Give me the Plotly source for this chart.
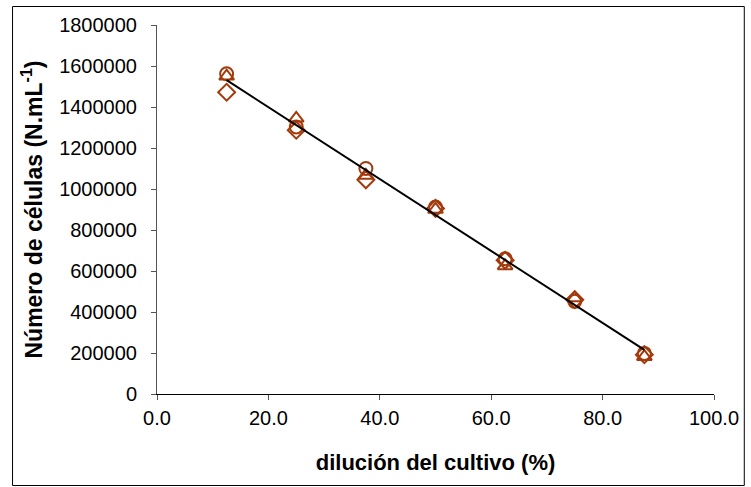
import numpy as np
import plotly.graph_objects as go

# Culture dilution (%) and cell counts (cells per mL) for three replicate counts
dilucion = [12.5, 25.0, 37.5, 50.0, 62.5, 75.0, 87.5]
replica_1 = [1562000, 1303000, 1100000, 912000, 660000, 452000, 198000]
replica_2 = [1550000, 1345000, 1066000, 900000, 625000, 468000, 182000]
replica_3 = [1472000, 1287000, 1045000, 905000, 652000, 460000, 192000]

x_ticks = [0, 20, 40, 60, 80, 100]
y_ticks = list(range(0, 1800001, 200000))

MARKER_COLOR = "#A33A0C"
FONT = "Liberation Sans, Arial, sans-serif"

# Linear trend over all replicates
all_x = np.array(dilucion * 3, dtype=float)
all_y = np.array(replica_1 + replica_2 + replica_3, dtype=float)
slope, intercept = np.polyfit(all_x, all_y, 1)
trend_x = np.array([min(dilucion), max(dilucion)])
trend_y = slope * trend_x + intercept

fig = go.Figure()
for vals, sym in [(replica_1, "circle-open"), (replica_2, "triangle-up-open"), (replica_3, "diamond-open")]:
    fig.add_trace(go.Scatter(
        x=dilucion, y=vals, mode="markers",
        marker=dict(symbol=sym, size=13, color=MARKER_COLOR, line=dict(width=2, color=MARKER_COLOR)),
        showlegend=False,
    ))

fig.add_trace(go.Scatter(
    x=trend_x, y=trend_y, mode="lines",
    line=dict(color="black", width=2), showlegend=False,
))

# Plot-area geometry in pixels
W, H = 751, 487
L, R, T, B = 157, 33, 25, 93
pw, ph = W - L - R, H - T - B

def px_to_paper_x(px):
    return (px - L) / pw

def px_to_paper_y(py):
    return (H - B - py) / ph

fig.add_shape(
    type="rect", xref="paper", yref="paper",
    x0=px_to_paper_x(11.5), x1=px_to_paper_x(748.5),
    y0=px_to_paper_y(485.5), y1=px_to_paper_y(6.5),
    line=dict(color="black", width=1), fillcolor="rgba(0,0,0,0)", layer="below",
)

fig.update_layout(
    width=W, height=H,
    margin=dict(l=L, r=R, t=T, b=B, pad=0),
    paper_bgcolor="white", plot_bgcolor="white",
    font=dict(family=FONT, size=20, color="black"),
    xaxis=dict(
        range=[0, 100], tickvals=x_ticks, tickformat=".1f",
        showline=True, linecolor="black", linewidth=1,
        ticks="outside", ticklen=5, tickcolor="#555555",
        ticklabelstandoff=1,
        showgrid=False, zeroline=False,
        title=dict(text="<b>dilución del cultivo (%)</b>", standoff=26, font=dict(size=22)),
    ),
    yaxis=dict(
        range=[0, 1800000], tickvals=y_ticks, tickformat="d",
        showline=True, linecolor="#555555", linewidth=1,
        ticks="outside", ticklen=5, tickcolor="#555555",
        ticklabelstandoff=10,
        showgrid=False, zeroline=False,
        title=dict(text="<b>Número de células (N.mL<sup>-1</sup>)</b>", standoff=10, font=dict(size=23)),
    ),
)

fig.write_html("out.html")
